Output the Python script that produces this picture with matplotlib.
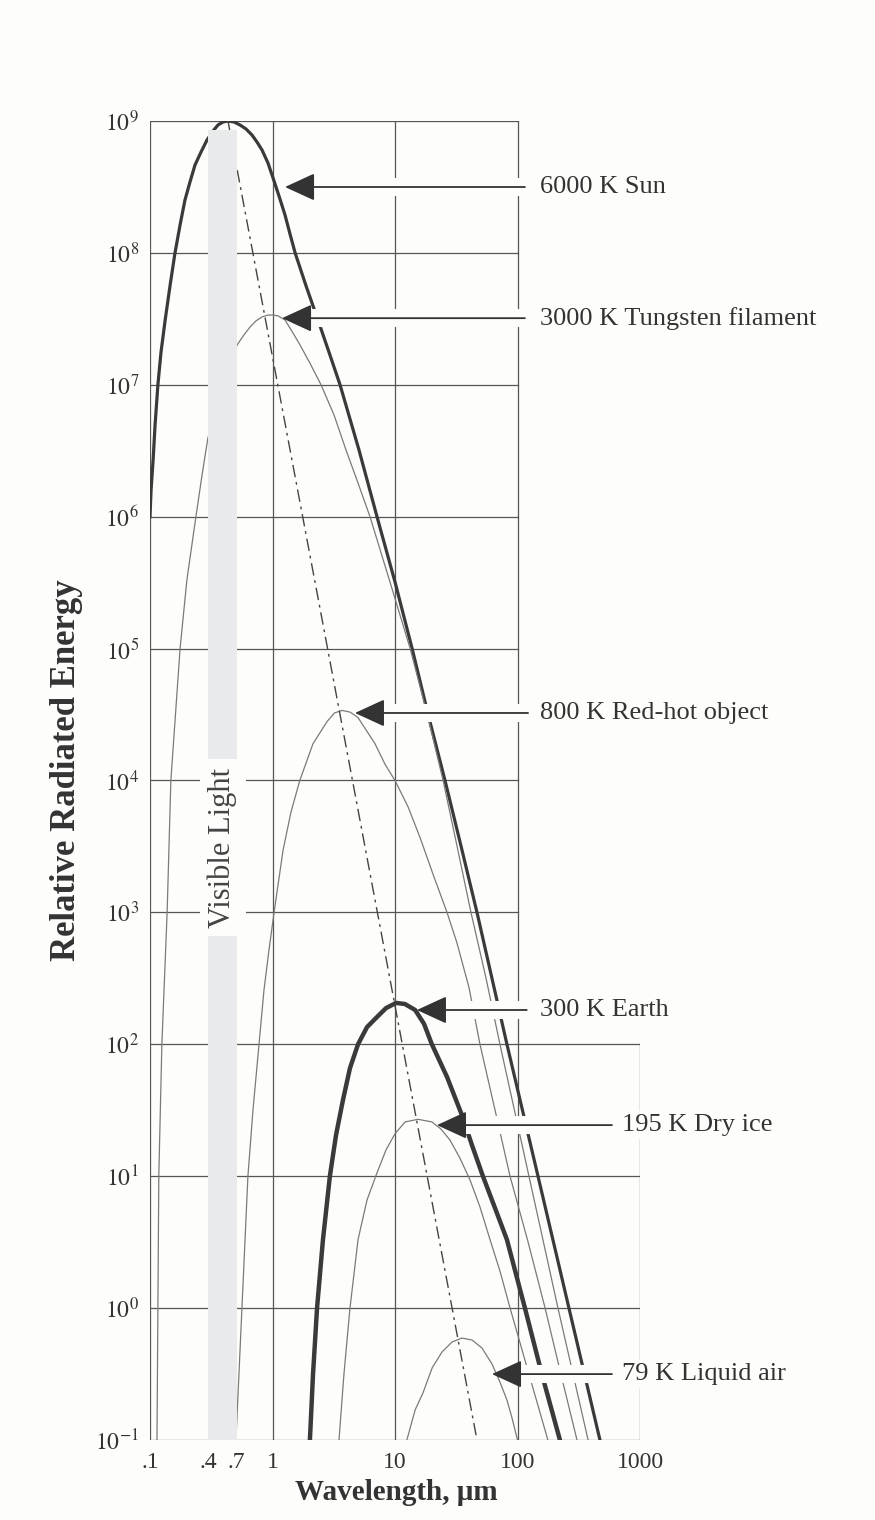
import matplotlib
matplotlib.use("Agg")
import matplotlib.pyplot as plt

plt.rcParams["font.family"] = ["Liberation Serif", "DejaVu Serif"]
plt.rcParams["mathtext.fontset"] = "stix"

BG = "#fdfdfb"
INK = "#3a3a3a"
GRID = "#555555"
THIN = "#7a7a7a"

# curves: wavelength (um) vs relative radiated energy
sun_wl = [0.1, 0.102, 0.106, 0.110, 0.116, 0.123, 0.133, 0.146, 0.160, 0.176,
          0.193, 0.212, 0.233, 0.261, 0.292, 0.327, 0.359, 0.394, 0.433, 0.485,
          0.543, 0.608, 0.680, 0.747, 0.821, 0.919, 1.01, 1.13, 1.265, 1.39,
          1.53, 1.88, 2.35, 2.89, 3.56, 5.08, 7.13, 10.0, 13.8, 18.6,
          25.6, 34.6, 46.7, 82, 147, 263, 471]
sun_E = [1e6, 1.59e6, 2.69e6, 4.96e6, 1e7, 1.77e7, 3.1e7, 5.71e7, 1e8, 1.63e8,
         2.52e8, 3.45e8, 4.64e8, 5.82e8, 7.18e8, 8.4e8, 9.33e8, 9.83e8, 1e9, 9.83e8,
         9.33e8, 8.7e8, 7.83e8, 6.93e8, 6.03e8, 4.8e8, 3.7e8, 2.7e8, 1.94e8, 1.39e8,
         1e8, 5.61e7, 3.1e7, 1.77e7, 1e7, 3.21e6, 1e6, 3.2e5, 1e5, 3.19e4,
         1e4, 3.18e3, 1e3, 100, 10, 1, 0.1]

w3000_wl = [0.114, 0.116, 0.118, 0.125, 0.138, 0.148, 0.176, 0.200, 0.237, 0.266,
            0.297, 0.387, 0.513, 0.585, 0.655, 0.733, 0.821, 0.919, 1.01, 1.11,
            1.265, 1.47, 1.68, 2.02, 2.49, 3.18, 3.98, 4.99, 6.25, 9.10,
            13.3, 18.3, 24.7, 32.1, 41.7, 55.3, 71.9, 124, 214, 377]
w3000_E = [0.1, 1, 10, 100, 1e3, 1e4, 1e5, 3.31e5, 1e6, 2.07e6,
           3.96e6, 9.1e6, 2.0e7, 2.39e7, 2.74e7, 3.05e7, 3.27e7, 3.38e7, 3.38e7, 3.33e7,
           3.1e7, 2.47e7, 2.0e7, 1.46e7, 1e7, 5.9e6, 3.21e6, 1.8e6, 1e6, 3.2e5,
           1e5, 3.19e4, 1e4, 3.18e3, 1e3, 318, 100, 10, 1, 0.1]

w800_wl = [0.503, 0.563, 0.63, 0.693, 0.776, 0.852, 0.936, 1.03, 1.22, 1.416,
           1.67, 2.14, 2.79, 3.2, 3.69, 4.3, 4.99, 6.87, 8.28, 10.0,
           12.8, 16.0, 20.8, 26.6, 32, 40.2, 49.4, 65.5, 86.9, 122,
           168, 226, 306]
w800_E = [0.1, 1, 10, 31.8, 100, 258, 519, 1e3, 2970, 5770,
          1e4, 1.9e4, 2.8e4, 3.25e4, 3.4e4, 3.3e4, 3.0e4, 1.9e4, 1.33e4, 1e4,
          6300, 3700, 1860, 1e3, 590, 269, 100, 31.8, 10, 3.17,
          1, 0.316, 0.1]

w300_wl = [2.02, 2.14, 2.31, 2.58, 2.94, 3.30, 3.76, 4.29, 4.99, 5.91,
           7.13, 8.44, 10.2, 12.06, 14.6, 17.25, 20.0, 26.6, 35.2, 42.5,
           52.2, 65.5, 82, 97.2, 115, 158, 222]
w300_E = [0.1, 0.311, 1, 3.28, 10, 20.5, 37.8, 66, 100, 135,
          161, 188, 206, 202, 182, 143, 100, 56.5, 29, 17.2,
          10, 5.74, 3.3, 1.81, 1, 0.316, 0.1]

w195_wl = [3.49, 3.83, 4.29, 4.99, 5.91, 7.13, 8.44, 10.0, 12.1, 15.4,
           20.0, 23.7, 28.1, 33.9, 40.9, 49.4, 59.7, 71.9, 87, 124, 177]
w195_E = [0.1, 0.316, 1, 3.3, 6.6, 10.6, 15.8, 21, 25.8, 27,
          25.8, 22.8, 18.8, 13.7, 9.4, 5.84, 3.3, 1.91, 1, 0.316, 0.1]

w79_wl = [12.5, 14.6, 16.9, 20.1, 24.2, 29.2, 35.2, 42.5, 51.3, 61.9,
          71.9, 82, 90.2, 100]
w79_E = [0.1, 0.169, 0.227, 0.352, 0.465, 0.553, 0.593, 0.573, 0.498, 0.377,
         0.275, 0.201, 0.147, 0.1]

# Wien displacement line (peak to peak)
wien_wl = [0.433, 46.7]
wien_E = [1e9, 0.1]

vis_band = [0.3, 0.51]
vis_top = 8.5e8

labels = ["6000 K Sun", "3000 K Tungsten filament", "800 K Red-hot object",
          "300 K Earth", "195 K Dry ice", "79 K Liquid air"]
label_E = [3.16e8, 3.2e7, 3.25e4, 182, 24.4, 0.316]
arrow_tip = [1.265, 1.196, 4.71, 15.1, 22.0, 61.9]
arrow_end = [115, 115, 122, 119, 590, 590]
label_x = [153, 153, 153, 153, 713, 713]

xtick_pos = [0.1, 0.3, 0.51, 1, 10, 100, 1000]
xtick_lab = [".1", ".4", ".7", "1", "10", "100", "1000"]
ydecades = [10.0 ** k for k in range(-1, 10)]

fig = plt.figure(figsize=(8.75, 15.2), dpi=100, facecolor=BG)
ax = fig.add_axes([150 / 875, 80 / 1520, 490 / 875, 1319 / 1520])
ax.patch.set_visible(False)
ax.set_xscale("log")
ax.set_yscale("log")
ax.set_xlim(0.1, 1000)
ax.set_ylim(0.1, 1e9)
for s in ax.spines.values():
    s.set_visible(False)

# stepped frame + grid
for x in [0.1, 1, 10, 100]:
    ax.plot([x, x], [0.1, 1e9], color=GRID, lw=0.9, zorder=1)
ax.plot([1000, 1000], [0.1, 100], color=GRID, lw=0.9, zorder=1)
for y in ydecades:
    ax.plot([0.1, 100 if y > 100 else 1000], [y, y], color=GRID, lw=0.9, zorder=1)

# curves
ax.plot(sun_wl, sun_E, color=INK, lw=2.3, zorder=3, solid_joinstyle="round")
ax.plot(w3000_wl, w3000_E, color=THIN, lw=0.9, zorder=3)
ax.plot(w800_wl, w800_E, color=THIN, lw=0.9, zorder=3)
ax.plot(w300_wl, w300_E, color=INK, lw=3.2, zorder=3, solid_joinstyle="round")
ax.plot(w195_wl, w195_E, color=THIN, lw=0.9, zorder=3)
ax.plot(w79_wl, w79_E, color=THIN, lw=0.9, zorder=3)
ax.plot(wien_wl, wien_E, color="#444444", lw=1.0, zorder=3,
        linestyle=(0, (9, 3.5, 2, 3.5)))

# visible band
ax.fill_between(vis_band, [0.1, 0.1], [vis_top, vis_top], color="#e9eaeb",
                lw=0, zorder=3.5)
ax.text(0.391, 3.1e3, "Visible Light", rotation=90, ha="center", va="center",
        fontsize=22, color="#444444", zorder=6,
        bbox=dict(fc=BG, ec="none", pad=6))

# arrows and labels
for lab, y, tip, end, lx in zip(labels, label_E, arrow_tip, arrow_end, label_x):
    ax.plot([tip * 10 ** 0.2, end], [y, y], color=BG, lw=13,
            solid_capstyle="butt", zorder=4)
    ax.annotate("", xy=(tip, y), xytext=(end, y), zorder=5,
                arrowprops=dict(arrowstyle="-|>,head_length=18.7,head_width=8.6",
                                mutation_scale=1, lw=1.3, color="#333333",
                                shrinkA=0, shrinkB=0))
    ax.text(lx, y, lab, ha="left", va="center", fontsize=19, color="#333333",
            zorder=6, bbox=dict(fc=BG, ec="none", pad=2))

ax.minorticks_off()
ax.set_xticks(xtick_pos)
ax.set_xticklabels(xtick_lab)
ax.set_yticks(ydecades)
ax.set_yticklabels([r"$10^{%d}$" % k for k in range(-1, 10)])
ax.tick_params(length=0, labelsize=17, labelcolor="#333333")
ax.tick_params(axis="x", pad=9)
ax.tick_params(axis="y", pad=8)

fig.text(67 / 875, 1 - 770 / 1520, "Relative Radiated Energy", rotation=90,
         ha="center", va="center", fontsize=25, fontweight="bold", color="#333333")
fig.text(396 / 875, 1 - 1493 / 1520, "Wavelength, \u03bcm", ha="center",
         va="center", fontsize=21, fontweight="bold", color="#333333")

fig.savefig("out.png", dpi=100, facecolor=BG)
